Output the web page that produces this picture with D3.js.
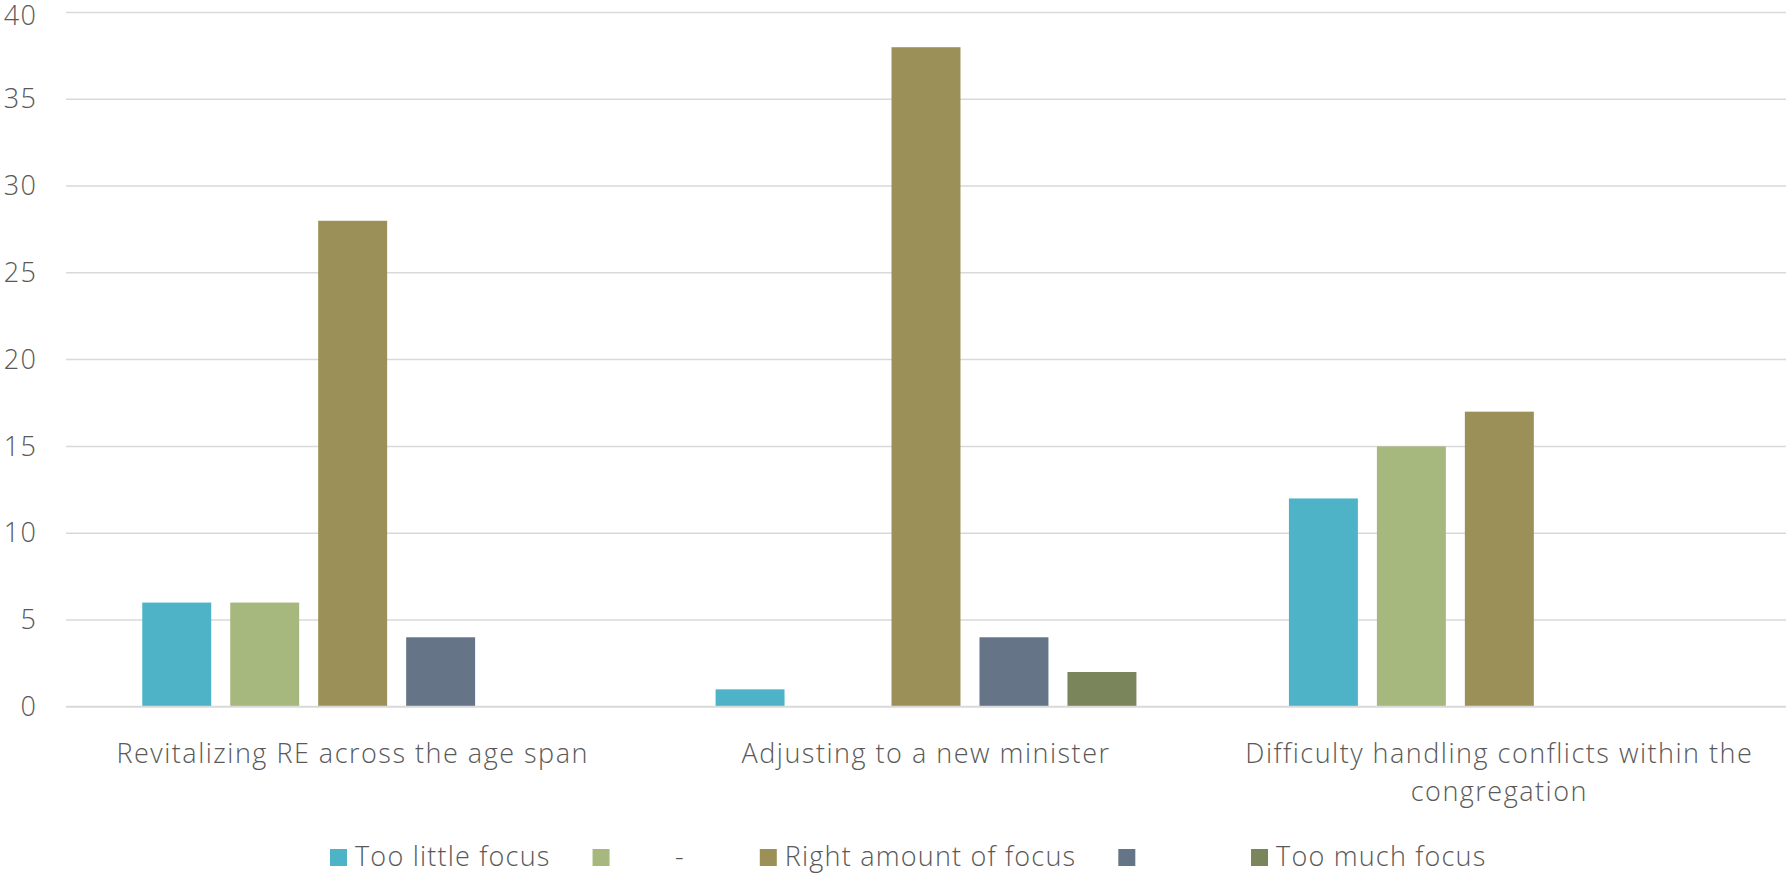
<!DOCTYPE html>
<html>
<head>
<meta charset="utf-8">
<script src="https://cdn.jsdelivr.net/npm/d3@7"></script>
<style>
  html, body { margin: 0; padding: 0; background: #fff; }
  svg text { font-family: "Segoe UI Light", "Open Sans", "Noto Sans", sans-serif; font-weight: 300; fill: #595959; letter-spacing: 1.2px; }
  .cat-label { letter-spacing: 1.5px; }
</style>
</head>
<body>
<svg id="chart" width="1788" height="875"></svg>
<script>
// Survey responses per topic
const categories = [
  "Revitalizing RE across the age span",
  "Adjusting to a new minister",
  "Difficulty handling conflicts within the congregation"
];
const seriesNames = ["Too little focus", "-", "Right amount of focus", "", "Too much focus"];
const legendLabels = ["Too little focus", "       -    ", "Right amount of focus", "        ", "Too much focus"];
const seriesColors = ["#4fb3c8", "#a7b87e", "#9b9158", "#657587", "#7a855c"];
const tooLittle   = [6, 1, 12];
const dashSeries  = [6, 0, 15];
const rightAmount = [28, 38, 17];
const blankSeries = [4, 4, 0];
const tooMuch     = [0, 2, 0];
const yTicks = [0, 5, 10, 15, 20, 25, 30, 35, 40];

const seriesValues = [tooLittle, dashSeries, rightAmount, blankSeries, tooMuch];

const W = 1788, H = 875;
const margin = { left: 66, right: 2, top: 12.5, bottom: 168.3 };
const fontSize = "27px";
const svg = d3.select("#chart");

const x0 = d3.scaleBand().domain(categories).range([margin.left, W - margin.right]).padding(0);
const groupW = x0.bandwidth() * 0.734;
const x1 = d3.scaleBand().domain(d3.range(seriesNames.length)).range([0, groupW]).paddingInner(0.216).paddingOuter(0);
const y = d3.scaleLinear().domain([0, 40]).range([H - margin.bottom, margin.top]);

// Horizontal gridlines
svg.append("g").selectAll("line").data(yTicks.filter(d => d > 0)).join("line")
  .attr("x1", margin.left).attr("x2", W - margin.right)
  .attr("y1", d => y(d)).attr("y2", d => y(d))
  .attr("stroke", "#d9d9d9").attr("stroke-width", 1.5);

// Value axis labels
const yAxis = d3.axisLeft(y).tickValues(yTicks).tickSize(0).tickPadding(0);
const gy = svg.append("g").attr("transform", `translate(37,0)`).call(yAxis);
gy.select(".domain").remove();
gy.selectAll("text").style("font-size", fontSize).attr("fill", "#595959")
  .attr("font-family", null)
  .attr("y", d => d === 40 ? 3 : 0);

// Bars
const groups = svg.append("g").selectAll("g").data(categories).join("g")
  .attr("transform", d => `translate(${x0(d) + (x0.bandwidth() - groupW) / 2},0)`);
groups.selectAll("rect")
  .data((c, ci) => seriesValues.map((vals, si) => ({ si, v: vals[ci] })).filter(d => d.v > 0))
  .join("rect")
  .attr("x", d => x1(d.si))
  .attr("width", x1.bandwidth())
  .attr("y", d => y(d.v))
  .attr("height", d => y(0) - y(d.v))
  .attr("fill", d => seriesColors[d.si]);

// Category axis line
svg.append("line")
  .attr("x1", margin.left).attr("x2", W - margin.right)
  .attr("y1", y(0)).attr("y2", y(0))
  .attr("stroke", "#d9d9d9").attr("stroke-width", 2);

// Category labels, wrapped to the band width
const xAxis = d3.axisBottom(x0).tickSize(0).tickPadding(0);
const gx = svg.append("g").attr("transform", `translate(0,${y(0)})`).call(xAxis);
gx.select(".domain").remove();
gx.selectAll("text").attr("class", "cat-label").attr("font-family", null)
  .style("font-size", fontSize).attr("fill", "#595959")
  .attr("dy", null).attr("y", 56)
  .each(function (d) {
    const t = d3.select(this);
    const words = d.split(/\s+/);
    t.text(null);
    let line = [];
    let tspan = t.append("tspan").attr("x", 0).attr("y", 56);
    let lineNo = 0;
    for (const w of words) {
      line.push(w);
      tspan.text(line.join(" "));
      if (tspan.node().getComputedTextLength() > 560 && line.length > 1) {
        line.pop();
        tspan.text(line.join(" "));
        line = [w];
        lineNo++;
        tspan = t.append("tspan").attr("x", 0).attr("y", 56 + lineNo * 38).text(w);
      }
    }
  });

// Legend
const legend = svg.append("g").attr("transform", "translate(330,849)");
let lx = 0;
legendLabels.forEach((lab, i) => {
  const g = legend.append("g").attr("transform", `translate(${lx},0)`);
  g.append("rect").attr("width", 17).attr("height", 17).attr("fill", seriesColors[i]);
  const t = g.append("text").attr("x", 25).attr("y", 17).style("font-size", fontSize)
    .style("white-space", "pre").text(lab);
  lx += 25 + t.node().getComputedTextLength() + 42;
});
</script>
</body>
</html>
